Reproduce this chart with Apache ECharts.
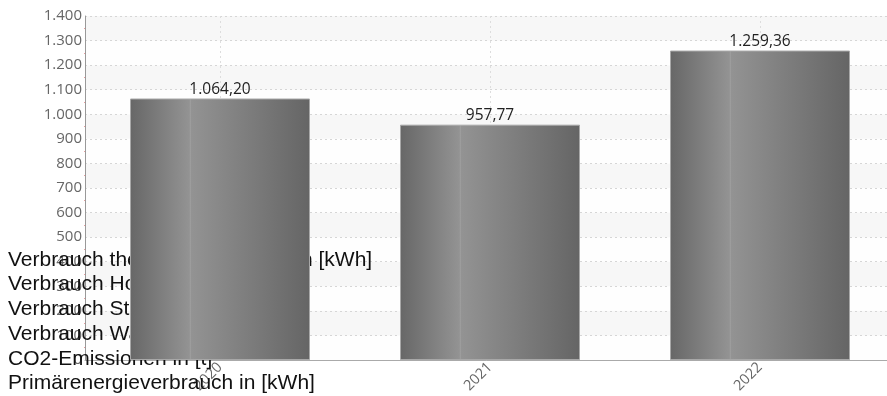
<!DOCTYPE html>
<html><head><meta charset="utf-8">
<script src="https://cdn.jsdelivr.net/npm/echarts@6/dist/echarts.min.js"></script>
<style>html,body{margin:0;padding:0;background:#fff}#c{width:887px;height:396px}</style>
</head><body><div id="c"></div>
<script>
var categories = ['2020', '2021', '2022'];
var values = [1064.20, 957.77, 1259.36];
var legendLines = [
  'Verbrauch thermische Energie in [kWh]',
  'Verbrauch Holz in [kWh]',
  'Verbrauch Strom in [kWh]',
  'Verbrauch Wasser in [m³]',
  'CO2-Emissionen in [t]',
  'Primärenergieverbrauch in [kWh]'
];

function fmtDe(v, dec) {
  var s = v.toFixed(dec);
  var parts = s.split('.');
  var intp = parts[0].replace(/\B(?=(\d{3})+(?!\d))/g, '.');
  return dec > 0 ? intp + ',' + parts[1] : intp;
}

var chart = echarts.init(document.getElementById('c'));
var barGrad = new echarts.graphic.LinearGradient(0, 0, 1, 0, [
  {offset: 0, color: '#676767'},
  {offset: 0.33, color: '#939393'},
  {offset: 0.334, color: '#a2a2a2'},
  {offset: 0.34, color: '#939393'},
  {offset: 1, color: '#656565'}
]);
var graphics = legendLines.map(function (t, i) {
  return {
    type: 'text', x: 8, y: 260 + i * 24.7, z: 1,
    style: {text: t, font: '21px "Liberation Sans", Arial, sans-serif', fill: '#111',
            verticalAlign: 'middle', textVerticalAlign: 'middle'}
  };
});
chart.setOption({
  animation: false,
  grid: {left: 85, top: 16, width: 810, bottom: 36, outerBoundsMode: 'none', containLabel: false},
  graphic: graphics,
  xAxis: {
    type: 'category', data: categories,
    axisLine: {lineStyle: {color: '#aaa'}},
    axisTick: {show: false, alignWithLabel: true},
    splitLine: {show: true, alignWithLabel: true, lineStyle: {color: '#ddd', type: [2, 3]}},
    axisLabel: {rotate: 45, color: '#666', fontSize: 14.5, fontFamily: '"Open Sans", sans-serif', margin: 5}
  },
  yAxis: {
    type: 'value', min: 0, max: 1400, interval: 100,
    axisLine: {show: true, lineStyle: {color: '#999'}},
    axisTick: {show: false},
    minorTick: {show: true, splitNumber: 2, length: 1, lineStyle: {color: '#e8a0a0'}},
    splitLine: {lineStyle: {color: '#d6d6d6', type: [2, 3]}},
    splitArea: {show: true, areaStyle: {color: ['#fefefe', '#f7f7f7']}},
    axisLabel: {
      color: '#666', fontSize: 15, fontFamily: '"Open Sans", sans-serif', margin: 3,
      formatter: function (v) { return fmtDe(v, 0); }
    }
  },
  series: [{
    type: 'bar', data: values, barWidth: 180, z: 2,
    itemStyle: {color: barGrad, borderColor: '#a8a8a8', borderWidth: 1},
    label: {
      show: true, position: 'top', distance: 1, color: '#222', fontSize: 15.5,
      fontFamily: '"Open Sans", sans-serif',
      formatter: function (p) { return fmtDe(p.value, 2); }
    }
  }]
});
</script></body></html>
